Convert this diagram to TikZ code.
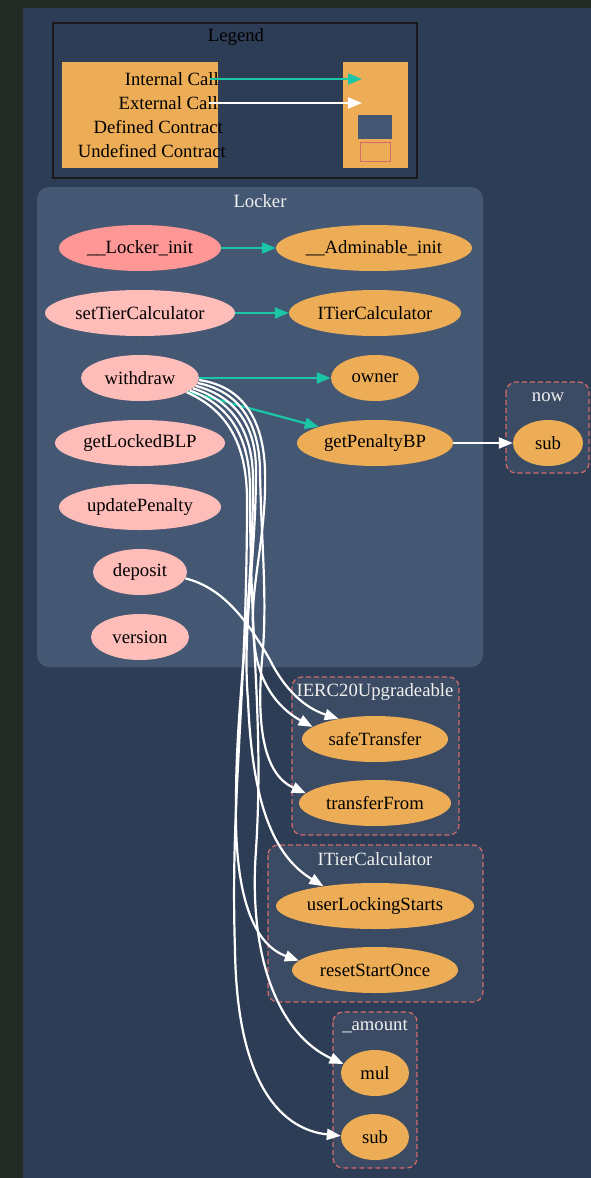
\documentclass[tikz,border=0pt]{standalone}
\usepackage{fontspec}
\setmainfont{Liberation Serif}
\usetikzlibrary{shapes.geometric,arrows.meta}
\definecolor{outerbg}{HTML}{222B24}
\definecolor{mainbg}{HTML}{2E3D56}
\definecolor{defc}{HTML}{445773}
\definecolor{undefc}{HTML}{3B4B63}
\definecolor{undefb}{HTML}{D46A6A}
\definecolor{orangef}{HTML}{EDAD56}
\definecolor{pinkf}{HTML}{FFBDB9}
\definecolor{initf}{HTML}{FF9797}
\definecolor{tealc}{HTML}{1BC6A6}
\definecolor{titlec}{HTML}{F0F0F0}
\newcommand\nfont{\fontsize{18.7}{22}\selectfont}
\newcommand\mb[1]{\makebox[0pt]{#1}}
\tikzset{
 fn/.style={ellipse, inner sep=0pt, minimum height=46pt, font=\nfont, text=black},
 ext/.style={fn, fill=orangef},
 pub/.style={fn, fill=pinkf},
 ini/.style={fn, fill=initf},
 ctitle/.style={font=\nfont, text=titlec, inner sep=0pt},
 defcl/.style={fill=defc, rounded corners=12pt},
 undefcl/.style={fill=undefc, draw=undefb, dash pattern=on 5pt off 3pt, line width=1.2pt, rounded corners=10pt},
 icall/.style={draw=tealc, line width=2.2pt, -{Triangle[length=14pt,width=11pt]}},
 ecall/.style={draw=white, line width=2.2pt, -{Triangle[length=14pt,width=11pt]}},
 legtext/.style={font=\nfont, text=black, inner sep=0pt, anchor=east},
}
\begin{document}
\begin{tikzpicture}[x=1pt,y=-1pt]
\useasboundingbox (0,0) rectangle (591,1178);
% backgrounds
\fill[outerbg] (0,0) rectangle (591,1178);
\fill[mainbg] (23,8) rectangle (591,1178);
% legend
\draw[line width=1.5pt, draw=black!90] (53,23) rectangle (417,178);
\node[font=\nfont, text=black, inner sep=0pt] (legtitle) at (236,37) {Legend};
\fill[orangef] (62,62) rectangle (218,168);
\fill[orangef] (343,62) rectangle (408,168);
\node[legtext] (lint) at (219,79) {Internal Call};
\node[legtext] (lext) at (218,103) {External Call};
\node[legtext] (ldef) at (223,127) {Defined Contract};
\node[legtext] (lund) at (226,151) {Undefined Contract};
\fill[defc] (358,115) rectangle (392,139);
\draw[undefb, line width=1pt] (360,142) rectangle (390,161);
\coordinate (li1) at (210,79); \coordinate (li2) at (362,79);
\coordinate (le1) at (209,103); \coordinate (le2) at (362,103);
\draw[icall] (li1) -- (li2);
\draw[ecall] (le1) -- (le2);
% clusters
\path[defcl] (37,187) rectangle (483,667);
\node[ctitle] (tlocker) at (260,201) {Locker};
\path[undefcl] (506,382) rectangle (589,473);
\node[ctitle] (tnow) at (548,397) {now};
\path[undefcl] (292,677) rectangle (459,835);
\node[ctitle] (tierc) at (375,692) {IERC20Upgradeable};
\path[undefcl] (268,845) rectangle (483,1002);
\node[ctitle] (titc) at (375,859) {ITierCalculator};
\path[undefcl] (333,1012) rectangle (417,1168);
\node[ctitle] (tamt) at (375,1026) {\_amount};
% nodes
\node[ini, minimum width=162pt] (linit) at (140,248) {\mb{\_\_Locker\_init}};
\node[ext, minimum width=196pt] (ainit) at (374,248) {\mb{\_\_Adminable\_init}};
\node[pub, minimum width=190pt] (stc) at (140,313) {\mb{setTierCalculator}};
\node[ext, minimum width=172pt] (itc) at (375,313) {\mb{ITierCalculator}};
\node[pub, minimum width=118pt] (wd) at (140,378) {\mb{withdraw}};
\node[ext, minimum width=88pt] (own) at (375,378) {\mb{owner}};
\node[pub, minimum width=170pt] (glb) at (140,443) {\mb{getLockedBLP}};
\node[ext, minimum width=156pt] (gpb) at (375,443) {\mb{getPenaltyBP}};
\node[pub, minimum width=162pt] (upd) at (140,507) {\mb{updatePenalty}};
\node[pub, minimum width=94pt] (dep) at (140,572) {\mb{deposit}};
\node[pub, minimum width=98pt] (ver) at (140,637) {\mb{version}};
\node[ext, minimum width=70pt] (nowsub) at (548,443) {\mb{sub}};
\node[ext, minimum width=146pt] (safe) at (375,739) {\mb{safeTransfer}};
\node[ext, minimum width=152pt] (tfr) at (375,803) {\mb{transferFrom}};
\node[ext, minimum width=198pt] (ulk) at (375,906) {\mb{userLockingStarts}};
\node[ext, minimum width=166pt] (rso) at (375,970) {\mb{resetStartOnce}};
\node[ext, minimum width=68pt] (mul) at (375,1073) {\mb{mul}};
\node[ext, minimum width=68pt] (amsub) at (375,1137) {\mb{sub}};
% internal calls
\draw[icall] (linit) -- (ainit);
\draw[icall] (stc) -- (itc);
\draw[icall] (wd) -- (own);
\draw[icall] (wd.-16) -- (gpb.164);
% external calls
\draw[ecall] (gpb) -- (nowsub);
\draw[ecall] (wd.-2) .. controls (235,385) and (263,410) .. (265,470) .. controls (267,540) and (248,590) .. (254,640) .. controls (258,690) and (285,712) .. (safe.169);
\draw[ecall] (wd.-5) .. controls (233,390) and (259,415) .. (260,470) .. controls (261,540) and (268,600) .. (262,660) .. controls (256,730) and (265,775) .. (tfr.172);
\draw[ecall] (wd.-8) .. controls (230,395) and (256,420) .. (256,470) .. controls (256,560) and (242,630) .. (248,700) .. controls (252,800) and (272,855) .. (ulk.159);
\draw[ecall] (wd.-11) .. controls (227,399) and (253,425) .. (253,480) .. controls (253,600) and (236,700) .. (236,800) .. controls (234,900) and (255,945) .. (rso.173);
\draw[ecall] (wd.-14) .. controls (224,403) and (250,430) .. (250,490) .. controls (250,650) and (264,720) .. (256,850) .. controls (248,960) and (280,1035) .. (mul.164);
\draw[ecall] (wd.-17) .. controls (220,407) and (247,435) .. (247,500) .. controls (247,700) and (230,800) .. (235,950) .. controls (237,1090) and (285,1130) .. (amsub.178);
\draw[ecall] (dep.-8) .. controls (225,588) and (250,625) .. (270,660) .. controls (285,690) and (305,708) .. (safe.151);
\end{tikzpicture}
\end{document}
